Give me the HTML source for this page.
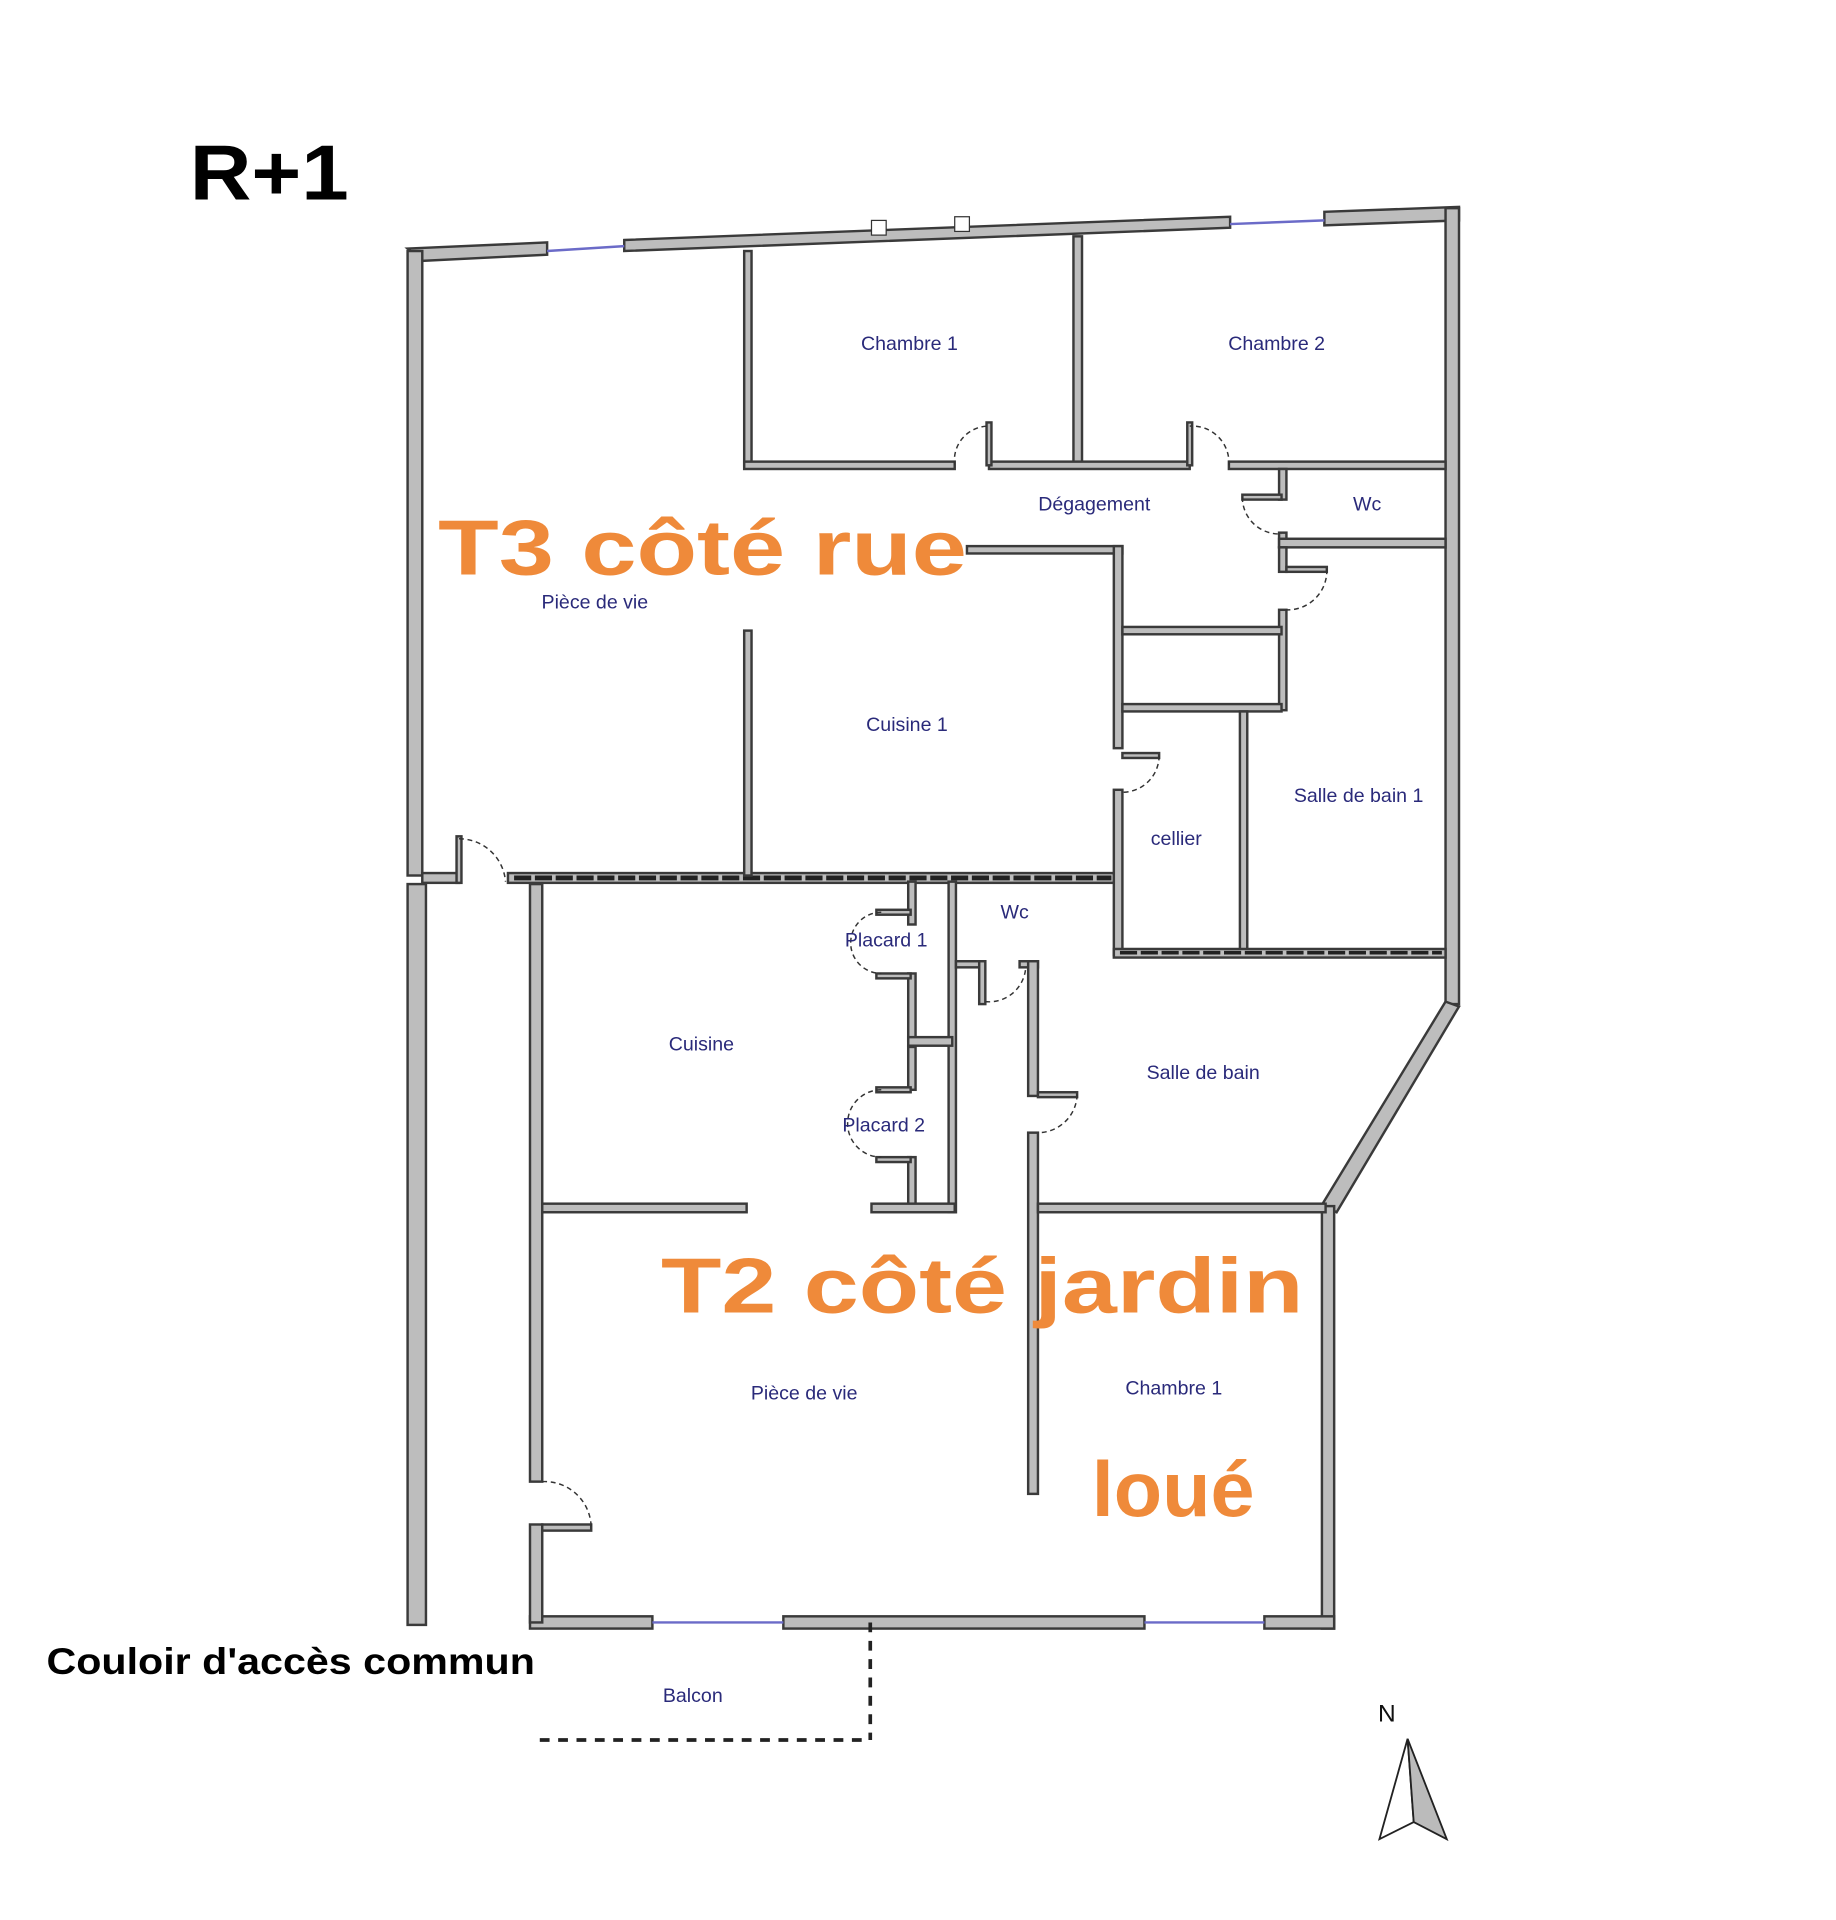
<!DOCTYPE html>
<html><head><meta charset="utf-8"><style>
html,body{margin:0;padding:0;background:#fff;width:1836px;height:1920px;overflow:hidden}
svg{display:block}
.w{fill:#bdbdbd;stroke:#3a3a3a;stroke-width:2}
.lbl{font-family:"Liberation Sans",sans-serif;font-size:16px;fill:#2a2a7a;text-anchor:middle}
.big{font-family:"Liberation Sans",sans-serif;font-weight:bold;fill:#ef8a3a;font-size:64px}
.door{fill:none;stroke:#333;stroke-width:1.2;stroke-dasharray:4 3}
</style></head><body>
<svg width="1836" height="1920" viewBox="0 0 1500 1568" preserveAspectRatio="none" xmlns="http://www.w3.org/2000/svg">
<text x="155" y="163" textLength="130" lengthAdjust="spacingAndGlyphs" style="font-family:'Liberation Sans',sans-serif;font-weight:bold;font-size:64px;fill:#000">R+1</text>
<polygon class="w" points="333,203 447,198 447,208 345,213"/>
<polygon class="w" points="510,196 1005,177 1005,186 510,205"/>
<polygon class="w" points="1082,173 1192,169 1192,180 1082,184"/>
<line x1="447" y1="205" x2="510" y2="201" stroke="#6b6bc8" stroke-width="2"/>
<line x1="1005" y1="183" x2="1082" y2="180" stroke="#6b6bc8" stroke-width="2"/>
<rect x="712" y="180" width="12" height="12" fill="#fff" stroke="#333"/>
<rect x="780" y="177" width="12" height="12" fill="#fff" stroke="#333"/>
<rect class="w" x="333" y="205" width="12" height="510"/>
<rect class="w" x="333" y="722" width="15" height="605"/>
<rect class="w" x="1181" y="170" width="11" height="650"/>
<polygon class="w" points="1181,818 1192,822 1092,990 1080,984"/>
<rect class="w" x="1080" y="985" width="10" height="345"/>
<rect class="w" x="433" y="1320" width="100" height="10"/>
<rect class="w" x="640" y="1320" width="295" height="10"/>
<rect class="w" x="1033" y="1320" width="57" height="10"/>
<line x1="533" y1="1325" x2="640" y2="1325" stroke="#6b6bc8" stroke-width="2"/>
<line x1="935" y1="1325" x2="1033" y2="1325" stroke="#6b6bc8" stroke-width="2"/>
<rect class="w" x="433" y="722" width="10" height="488"/>
<rect class="w" x="433" y="1245" width="10" height="80"/>
<rect class="w" x="443" y="1245" width="40" height="5"/>
<rect class="w" x="345" y="713" width="30" height="8"/>
<rect class="w" x="415" y="713" width="497" height="8"/>
<line x1="420" y1="717" x2="908" y2="717" stroke="#222" stroke-width="4" stroke-dasharray="14 3"/>
<rect class="w" x="608" y="205" width="6" height="175"/>
<rect class="w" x="877" y="193" width="7" height="187"/>
<rect class="w" x="608" y="377" width="172" height="6"/>
<rect class="w" x="808" y="377" width="164" height="6"/>
<rect class="w" x="1004" y="377" width="177" height="6"/>
<rect class="w" x="806" y="345" width="4" height="35"/>
<rect class="w" x="970" y="345" width="4" height="35"/>
<path class="door" d="M780,380 A28,28 0 0 1 808,348"/>
<path class="door" d="M1004,380 A30,30 0 0 0 972,348"/>
<rect class="w" x="1045" y="383" width="6" height="25"/>
<rect class="w" x="1015" y="404" width="32" height="4"/>
<rect class="w" x="1045" y="435" width="6" height="12"/>
<rect class="w" x="1045" y="440" width="136" height="7"/>
<path class="door" d="M1015,406 A30,30 0 0 0 1047,436"/>
<rect class="w" x="1045" y="447" width="6" height="20"/>
<rect class="w" x="1051" y="463" width="33" height="4"/>
<rect class="w" x="1045" y="498" width="6" height="82"/>
<path class="door" d="M1084,465 A32,32 0 0 1 1050,498"/>
<rect class="w" x="790" y="446" width="127" height="6"/>
<rect class="w" x="910" y="446" width="7" height="165"/>
<rect class="w" x="910" y="645" width="7" height="135"/>
<rect class="w" x="917" y="615" width="30" height="4"/>
<path class="door" d="M947,617 A30,30 0 0 1 917,647"/>
<rect class="w" x="917" y="512" width="130" height="6"/>
<rect class="w" x="917" y="575" width="130" height="6"/>
<rect class="w" x="1013" y="581" width="6" height="197"/>
<rect class="w" x="608" y="515" width="6" height="200"/>
<rect class="w" x="910" y="775" width="271" height="7"/>
<line x1="915" y1="778" x2="1178" y2="778" stroke="#222" stroke-width="3" stroke-dasharray="14 3"/>
<rect class="w" x="373" y="683" width="4" height="38"/>
<path class="door" d="M375,685 A38,38 0 0 1 413,720"/>
<rect class="w" x="775" y="720" width="6" height="270"/>
<rect class="w" x="742" y="720" width="6" height="35"/>
<rect class="w" x="742" y="795" width="6" height="55"/>
<rect class="w" x="742" y="855" width="6" height="35"/>
<rect class="w" x="742" y="945" width="6" height="40"/>
<rect class="w" x="742" y="847" width="36" height="7"/>
<rect class="w" x="716" y="743" width="28" height="4"/>
<rect class="w" x="716" y="795" width="28" height="4"/>
<rect class="w" x="716" y="888" width="28" height="4"/>
<rect class="w" x="716" y="945" width="28" height="4"/>
<path class="door" d="M720,745 A25,25 0 0 0 720,795"/>
<path class="door" d="M720,890 A27,27 0 0 0 720,945"/>
<rect class="w" x="443" y="983" width="167" height="7"/>
<rect class="w" x="712" y="983" width="68" height="7"/>
<rect class="w" x="781" y="785" width="22" height="5"/>
<rect class="w" x="800" y="785" width="5" height="35"/>
<path class="door" d="M805,818 A30,30 0 0 0 838,786"/>
<rect class="w" x="833" y="785" width="15" height="5"/>
<rect class="w" x="840" y="785" width="8" height="110"/>
<rect class="w" x="848" y="892" width="32" height="4"/>
<rect class="w" x="840" y="925" width="8" height="295"/>
<path class="door" d="M880,894 A32,32 0 0 1 848,925"/>
<rect class="w" x="848" y="983" width="235" height="7"/>
<path class="door" d="M443,1210 A38,38 0 0 1 483,1248"/>
<line x1="711" y1="1325" x2="711" y2="1421" stroke="#222" stroke-width="3" stroke-dasharray="8 7"/>
<line x1="441" y1="1421" x2="711" y2="1421" stroke="#222" stroke-width="3" stroke-dasharray="8 7"/>
<text class="lbl" x="743" y="286">Chambre 1</text>
<text class="lbl" x="1043" y="286">Chambre 2</text>
<text class="lbl" x="894" y="417">Dégagement</text>
<text class="lbl" x="1117" y="417">Wc</text>
<text class="lbl" x="486" y="497">Pièce de vie</text>
<text class="lbl" x="741" y="597">Cuisine 1</text>
<text class="lbl" x="1110" y="655">Salle de bain 1</text>
<text class="lbl" x="961" y="690">cellier</text>
<text class="lbl" x="829" y="750">Wc</text>
<text class="lbl" x="724" y="773">Placard 1</text>
<text class="lbl" x="573" y="858">Cuisine</text>
<text class="lbl" x="983" y="881">Salle de bain</text>
<text class="lbl" x="722" y="924">Placard 2</text>
<text class="lbl" x="657" y="1143">Pièce de vie</text>
<text class="lbl" x="959" y="1139">Chambre 1</text>
<text class="lbl" x="566" y="1390">Balcon</text>
<text class="lbl" x="1133" y="1406" style="fill:#111;font-size:20px">N</text>
<polygon points="1150,1420 1127,1502 1155,1488" fill="#fff" stroke="#222" stroke-width="1.5"/>
<polygon points="1150,1420 1182,1502 1155,1488" fill="#bbb" stroke="#222" stroke-width="1.5"/>
<text class="big" x="358" y="469" textLength="432" lengthAdjust="spacingAndGlyphs">T3 côté rue</text>
<text class="big" x="540" y="1072" textLength="525" lengthAdjust="spacingAndGlyphs">T2 côté jardin</text>
<text class="big" x="892" y="1238" textLength="133" lengthAdjust="spacingAndGlyphs">loué</text>
<text x="38" y="1367" textLength="399" lengthAdjust="spacingAndGlyphs" style="font-family:'Liberation Sans',sans-serif;font-weight:bold;font-size:30px;fill:#000">Couloir d'accès commun</text>
</svg>
</body></html>
